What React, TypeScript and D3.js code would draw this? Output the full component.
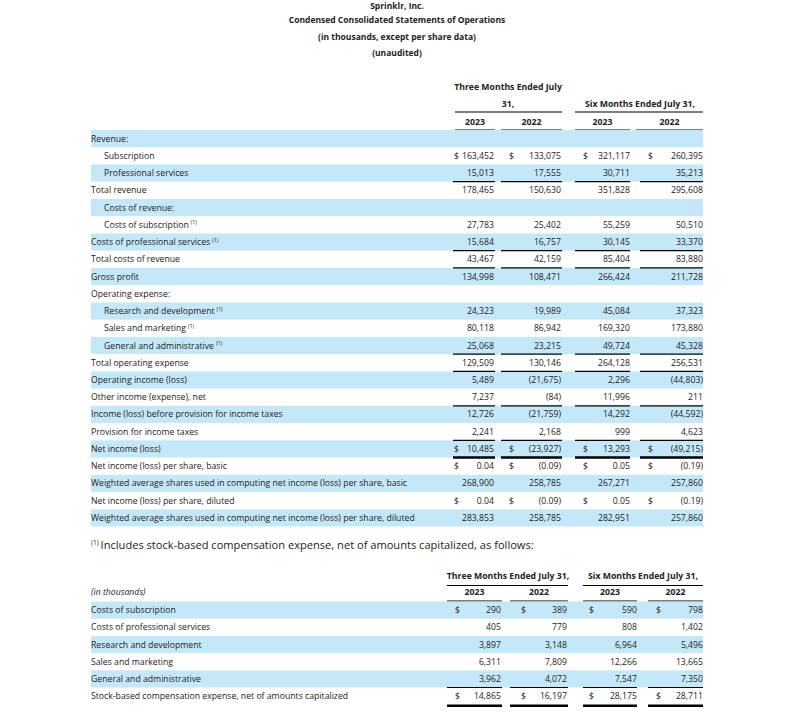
import React from "react";
import * as d3 from "d3";

const titleLines = [
  "Sprinklr, Inc.",
  "Condensed Consolidated Statements of Operations",
  "(in thousands, except per share data)",
  "(unaudited)",
];

const rowLabels = [
  "Revenue:",
  "Subscription",
  "Professional services",
  "Total revenue",
  "Costs of revenue:",
  "Costs of subscription",
  "Costs of professional services",
  "Total costs of revenue",
  "Gross profit",
  "Operating expense:",
  "Research and development",
  "Sales and marketing",
  "General and administrative",
  "Total operating expense",
  "Operating income (loss)",
  "Other income (expense), net",
  "Income (loss) before provision for income taxes",
  "Provision for income taxes",
  "Net income (loss)",
  "Net income (loss) per share, basic",
  "Weighted average shares used in computing net income (loss) per share, basic",
  "Net income (loss) per share, diluted",
  "Weighted average shares used in computing net income (loss) per share, diluted",
];
const indentedRows = [1, 2, 4, 5, 10, 11, 12];
const footnoteRows = [5, 6, 10, 11, 12];
const dollarRows = [1, 18, 19, 21];
const perShareRows = [19, 21];
const ruleAboveRows = [3, 7, 8, 13, 14, 16, 18];
const thickRuleAboveRows = [19];

const q3_2023 = [null, 163452, 15013, 178465, null, 27783, 15684, 43467, 134998, null, 24323, 80118, 25068, 129509, 5489, 7237, 12726, 2241, 10485, 0.04, 268900, 0.04, 283853];
const q3_2022 = [null, 133075, 17555, 150630, null, 25402, 16757, 42159, 108471, null, 19989, 86942, 23215, 130146, -21675, -84, -21759, 2168, -23927, -0.09, 258785, -0.09, 258785];
const h1_2023 = [null, 321117, 30711, 351828, null, 55259, 30145, 85404, 266424, null, 45084, 169320, 49724, 264128, 2296, 11996, 14292, 999, 13293, 0.05, 267271, 0.05, 282951];
const h1_2022 = [null, 260395, 35213, 295608, null, 50510, 33370, 83880, 211728, null, 37323, 173880, 45328, 256531, -44803, 211, -44592, 4623, -49215, -0.19, 257860, -0.19, 257860];

const periodHeaders = ["Three Months Ended July 31,", "Six Months Ended July 31,"];
const yearHeaders = ["2023", "2022", "2023", "2022"];

const footnoteText = "Includes stock-based compensation expense, net of amounts capitalized, as follows:";

const sbcLabels = [
  "Costs of subscription",
  "Costs of professional services",
  "Research and development",
  "Sales and marketing",
  "General and administrative",
  "Stock-based compensation expense, net of amounts capitalized",
];
const sbc_q3_2023 = [290, 405, 3897, 6311, 3962, 14865];
const sbc_q3_2022 = [389, 779, 3148, 7809, 4072, 16197];
const sbc_h1_2023 = [590, 808, 6964, 12266, 7547, 28175];
const sbc_h1_2022 = [798, 1402, 5496, 13665, 7350, 28711];
const sbcDollarRows = [0, 5];

const FONT = "'Open Sans', 'Noto Sans', sans-serif";
const BLUE = "#c5e8f9";
const INK = "#222";

const fmtInt = d3.format(",");
const fmtDec = d3.format(".2f");
function fmt(v: number, dec: boolean) {
  const s = dec ? fmtDec(Math.abs(v)) : fmtInt(Math.abs(v));
  return v < 0 ? `(${s})` : s;
}

export default function App() {
  const W = 789, H = 714;
  const left = 91, right = 703;

  const yTop = d3.scaleBand<number>().domain(d3.range(rowLabels.length)).range([130, 130 + 17.24 * rowLabels.length]);
  const topCols = [
    { dollar: 454, right: 494, x0: 453, x1: 495 },
    { dollar: 509, right: 561, x0: 501, x1: 562 },
    { dollar: 583, right: 630, x0: 575, x1: 630 },
    { dollar: 648, right: 703, x0: 640, x1: 703 },
  ];
  const topYearLine = [
    [455, 495], [501, 562], [575, 630], [636, 703],
  ];
  const topSeries = [q3_2023, q3_2022, h1_2023, h1_2022];

  const yBot = d3.scaleBand<number>().domain(d3.range(sbcLabels.length)).range([601.5, 601.5 + 17.2 * sbcLabels.length]);
  const botCols = [
    { dollar: 455, right: 501, x0: 447, x1: 502 },
    { dollar: 521, right: 567, x0: 510, x1: 568 },
    { dollar: 589, right: 637, x0: 583, x1: 637 },
    { dollar: 656, right: 703, x0: 648, x1: 703 },
  ];
  const botSeries = [sbc_q3_2023, sbc_q3_2022, sbc_h1_2023, sbc_h1_2022];

  const fs = 8.7;
  const hfs = 8.7;

  return (
    <svg width={W} height={H} style={{ position: "absolute", left: 0, top: 0 }} fontFamily={FONT}>
      <rect width={W} height={H} fill="#fff" />
      {titleLines.map((t, i) => (
        <text key={t} x={397} y={[8.5, 23, 40, 56][i]} textAnchor="middle" fontSize={8.5} fontWeight="bold" fill={INK}>
          {t}
        </text>
      ))}

      <text x={508} y={90} textAnchor="middle" fontSize={hfs} fontWeight="bold" fill={INK}>Three Months Ended July</text>
      <text x={508} y={107} textAnchor="middle" fontSize={hfs} fontWeight="bold" fill={INK}>31,</text>
      <text x={640} y={107} textAnchor="middle" fontSize={hfs} fontWeight="bold" fill={INK}>Six Months Ended July 31,</text>
      <line x1={455} x2={562} y1={112} y2={112} stroke="#000" strokeWidth={1.2} />
      <line x1={575} x2={703} y1={112} y2={112} stroke="#000" strokeWidth={1.2} />
      {yearHeaders.map((t, i) => (
        <text key={i} x={(topYearLine[i][0] + topYearLine[i][1]) / 2} y={124.5} textAnchor="middle" fontSize={hfs} fontWeight="bold" fill={INK}>{t}</text>
      ))}
      {topYearLine.map((s, i) => (
        <line key={i} x1={s[0]} x2={s[1]} y1={130} y2={130} stroke="#000" strokeWidth={1.2} />
      ))}

      {rowLabels.map((lab, i) => {
        const y0 = yTop(i)!;
        const bh = yTop.bandwidth();
        const cy = y0 + bh / 2 + 3;
        return (
          <g key={i}>
            {i % 2 === 0 && <rect x={left} y={y0} width={right - left} height={bh} fill={BLUE} />}
            <text x={indentedRows.includes(i) ? 104 : left} y={cy} fontSize={fs} fill={INK}>
              {lab}
              {footnoteRows.includes(i) && (
                <tspan fontSize={5.2} dx={2} dy={-3.5}>(1)</tspan>
              )}
            </text>
            {topSeries.map((ser, c) => {
              const v = ser[i];
              if (v === null) return null;
              const col = topCols[c];
              return (
                <g key={c}>
                  {dollarRows.includes(i) && (
                    <text x={col.dollar} y={cy} fontSize={fs} fill={INK}>$</text>
                  )}
                  <text x={col.right} y={cy} textAnchor="end" fontSize={fs} fill={INK}>
                    {fmt(v, perShareRows.includes(i))}
                  </text>
                </g>
              );
            })}
          </g>
        );
      })}
      {ruleAboveRows.map((r) =>
        topCols.map((col, c) => (
          <line key={`${r}-${c}`} x1={col.x0} x2={col.x1} y1={yTop(r)!} y2={yTop(r)!} stroke="#000" strokeWidth={1.2} />
        ))
      )}
      {thickRuleAboveRows.map((r) =>
        topCols.map((col, c) => (
          <line key={`t${r}-${c}`} x1={col.x0} x2={col.x1} y1={yTop(r)!} y2={yTop(r)!} stroke="#000" strokeWidth={2.4} />
        ))
      )}

      <text x={left} y={549} fontSize={11.1} fill={INK}>
        <tspan fontSize={6.5} dy={-4}>(1)</tspan>
        <tspan dx={2} dy={4}>{footnoteText}</tspan>
      </text>

      <text x={508} y={579} textAnchor="middle" fontSize={hfs} fontWeight="bold" fill={INK}>{periodHeaders[0]}</text>
      <text x={643} y={579} textAnchor="middle" fontSize={hfs} fontWeight="bold" fill={INK}>{periodHeaders[1]}</text>
      <line x1={447} x2={568} y1={585.5} y2={585.5} stroke="#000" strokeWidth={1.2} />
      <line x1={583} x2={703} y1={585.5} y2={585.5} stroke="#000" strokeWidth={1.2} />
      {yearHeaders.map((t, i) => (
        <text key={i} x={(botCols[i].x0 + botCols[i].x1) / 2} y={595} textAnchor="middle" fontSize={hfs} fontWeight="bold" fill={INK}>{t}</text>
      ))}
      {botCols.map((col, i) => (
        <line key={i} x1={col.x0} x2={col.x1} y1={601} y2={601} stroke="#000" strokeWidth={1.2} />
      ))}
      <text x={left} y={595} fontSize={fs} fontStyle="italic" fill={INK}>(in thousands)</text>

      {sbcLabels.map((lab, i) => {
        const y0 = yBot(i)!;
        const bh = yBot.bandwidth();
        const cy = y0 + bh / 2 + 3;
        return (
          <g key={i}>
            {i % 2 === 0 && <rect x={left} y={y0} width={right - left} height={bh} fill={BLUE} />}
            <text x={left} y={cy} fontSize={fs} fill={INK}>{lab}</text>
            {botSeries.map((ser, c) => {
              const col = botCols[c];
              return (
                <g key={c}>
                  {sbcDollarRows.includes(i) && (
                    <text x={col.dollar} y={cy} fontSize={fs} fill={INK}>$</text>
                  )}
                  <text x={col.right} y={cy} textAnchor="end" fontSize={fs} fill={INK}>
                    {fmt(ser[i], false)}
                  </text>
                </g>
              );
            })}
          </g>
        );
      })}
      {botCols.map((col, c) => (
        <line key={`a${c}`} x1={col.x0} x2={col.x1} y1={yBot(5)!} y2={yBot(5)!} stroke="#000" strokeWidth={1.2} />
      ))}
      {botCols.map((col, c) => (
        <line key={`b${c}`} x1={col.x0} x2={col.x1} y1={yBot(5)! + yBot.bandwidth() + 1} y2={yBot(5)! + yBot.bandwidth() + 1} stroke="#000" strokeWidth={2.4} />
      ))}
    </svg>
  );
}
